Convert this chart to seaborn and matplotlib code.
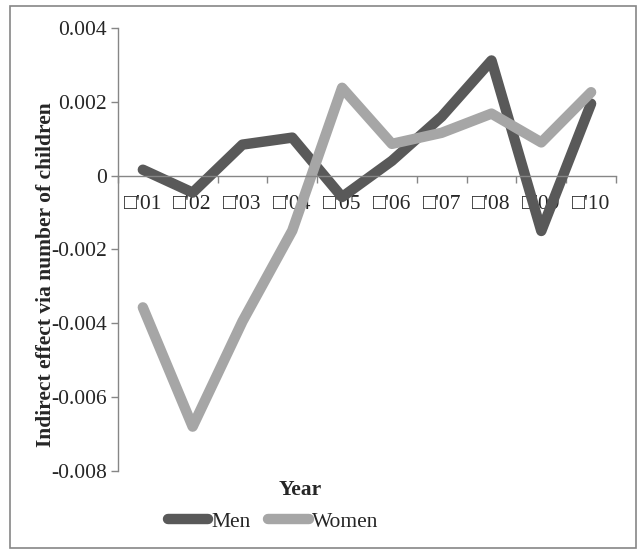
import pandas as pd
import numpy as np
import matplotlib
matplotlib.use('Agg')
import matplotlib.pyplot as plt
import seaborn as sns
from matplotlib.patches import Rectangle
from matplotlib.lines import Line2D

years = ['\u25a1\'01', '\u25a1\'02', '\u25a1\'03', '\u25a1\'04', '\u25a1\'05',
         '\u25a1\'06', '\u25a1\'07', '\u25a1\'08', '\u25a1\'09', '\u25a1\'10']
men = [0.00016, -0.00046, 0.00084, 0.00103, -0.00058, 0.00040, 0.00160, 0.00312, -0.00150, 0.00195]
women = [-0.00357, -0.00680, -0.00395, -0.00149, 0.00238, 0.00086, 0.00116, 0.00168, 0.00090, 0.00226]
y_ticks = [-0.008, -0.006, -0.004, -0.002, 0, 0.002, 0.004]

sns.set_style('white')
plt.rcParams['font.family'] = ['Liberation Serif', 'DejaVu Sans']
plt.rcParams['axes.unicode_minus'] = False

df = pd.DataFrame({
    'pos': list(range(len(years))) * 2,
    'value': men + women,
    'sex': ['Men'] * len(men) + ['Women'] * len(women),
})

fs = 15.5
fig = plt.figure(figsize=(6.41, 5.54), dpi=100)
ax = fig.add_axes([0.184, 0.150, 0.777, 0.7995])

sns.lineplot(data=df, x='pos', y='value', hue='sex', palette=['#595959', '#a6a6a6'],
             linewidth=7.5, ax=ax, legend=False, solid_capstyle='round', solid_joinstyle='round')

axis_col = '#868686'
ax.set_xlim(-0.5, len(years) - 0.5)
ax.set_ylim(-0.008, 0.004)
ax.spines['top'].set_visible(False)
ax.spines['right'].set_visible(False)
ax.spines['bottom'].set_position(('data', 0))
for s in ['left', 'bottom']:
    ax.spines[s].set_color(axis_col)
    ax.spines[s].set_linewidth(1)

ax.set_yticks(y_ticks)
ax.set_yticklabels([f'{v:g}' for v in y_ticks], fontsize=fs)
ax.tick_params(axis='y', direction='out', length=5, color=axis_col, width=1, left=True, pad=3)

ax.set_xticks(range(len(years)))
ax.set_xticklabels(years, fontsize=fs)
ax.set_xticks(np.arange(-0.5, len(years), 1.0), minor=True)
ax.tick_params(axis='x', which='major', length=0, pad=14)
ax.tick_params(axis='x', which='minor', direction='out', length=5, color=axis_col, width=1, bottom=True)
ax.set_xlabel('')
ax.set_ylabel('')

fig.text(0.071, 0.505, 'Indirect effect via number of children', rotation=90,
         fontsize=fs, fontweight='bold', ha='center', va='center')
fig.text(0.468, 0.1155, 'Year', fontsize=fs, fontweight='bold', ha='center', va='center')

handles = [Line2D([], [], color='#595959', linewidth=7.5, solid_capstyle='round'),
           Line2D([], [], color='#a6a6a6', linewidth=7.5, solid_capstyle='round')]
fig.legend(handles, ['Men', 'Women'], loc='center', bbox_to_anchor=(0.426, 0.058),
           ncol=2, frameon=False, fontsize=fs, handlelength=1.9, handletextpad=0.15,
           columnspacing=0.8, borderpad=0)

fig.patches.append(Rectangle((10 / 641, 6 / 554), 626 / 641, 542 / 554, transform=fig.transFigure,
                             fill=False, edgecolor=axis_col, linewidth=1.2))

fig.savefig('out.png', dpi=100)
